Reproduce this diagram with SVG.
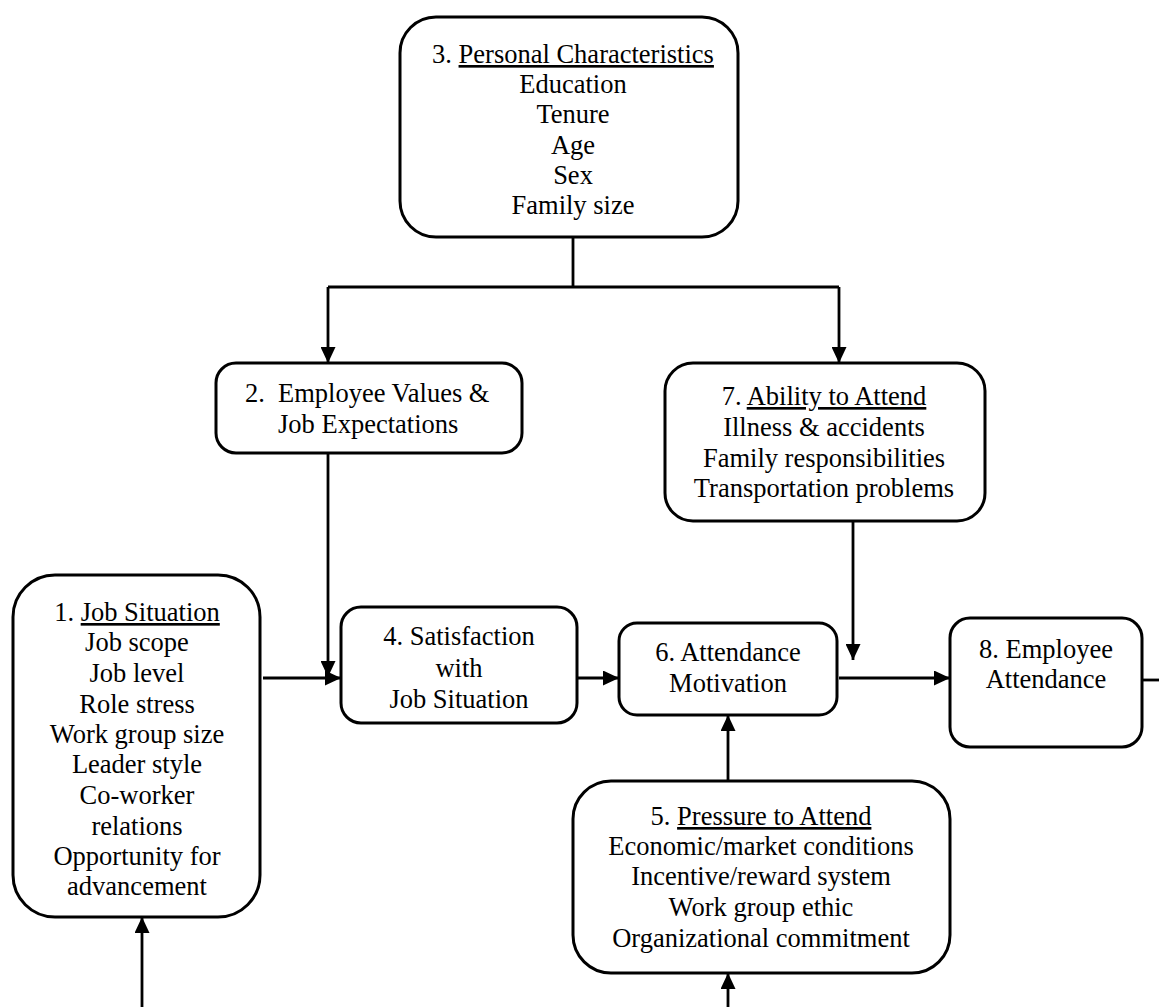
<svg xmlns="http://www.w3.org/2000/svg" width="1159" height="1007" viewBox="0 0 1159 1007">
<style>
  .box { fill: #ffffff; stroke: #000000; stroke-width: 3; }
  .t { font-family: "Liberation Serif", "Times New Roman", serif; font-size: 26.5px; fill: #000000; text-anchor: middle; }
  .ts { font-family: "Liberation Serif", "Times New Roman", serif; font-size: 26.5px; fill: #000000; text-anchor: start; }
  .u { text-decoration: underline; }
  .c { fill: none; stroke: #000000; stroke-width: 2.8; }
  .ca { fill: none; stroke: #000000; stroke-width: 2.8; marker-end: url(#arr); }
</style>
<defs>
  <marker id="arr" markerUnits="userSpaceOnUse" markerWidth="16" markerHeight="15" refX="16" refY="7.5" orient="auto">
    <path d="M0,0 L16,7.5 L0,15 z" fill="#000000"/>
  </marker>
</defs>
<rect width="1159" height="1007" fill="#ffffff"/>

<g id="connectors">
  <path class="c" d="M573,237 V287"/>
  <path class="c" d="M328,287 H839"/>
  <path class="ca" d="M328,287 V363"/>
  <path class="ca" d="M839,287 V363"/>
  <path class="ca" d="M328,453 V677"/>
  <path class="ca" d="M263,678 H341"/>
  <path class="ca" d="M577,678 H619"/>
  <path class="ca" d="M853,521 V660"/>
  <path class="ca" d="M839,678 H950"/>
  <path class="c" d="M1142,680 H1159"/>
  <path class="ca" d="M142,1007 V917"/>
  <path class="ca" d="M728,781 V715"/>
  <path class="ca" d="M728,1007 V973"/>
</g>

<g id="node3">
  <rect class="box" x="400" y="17" width="338" height="220" rx="36"/>
  <text class="t" x="573" y="63">3. <tspan class="u">Personal Characteristics</tspan></text>
  <text class="t" x="573" y="93">Education</text>
  <text class="t" x="573" y="123">Tenure</text>
  <text class="t" x="573" y="154">Age</text>
  <text class="t" x="573" y="184">Sex</text>
  <text class="t" x="573" y="214">Family size</text>
</g>

<g id="node2">
  <rect class="box" x="216" y="363" width="306" height="90" rx="20"/>
  <text class="ts" x="245" y="402">2.</text>
  <text class="ts" x="278" y="402">Employee Values &amp;</text>
  <text class="ts" x="278" y="433">Job Expectations</text>
</g>

<g id="node7">
  <rect class="box" x="665" y="363" width="320" height="158" rx="28"/>
  <text class="t" x="824" y="405">7. <tspan class="u">Ability to Attend</tspan></text>
  <text class="t" x="824" y="436">Illness &amp; accidents</text>
  <text class="t" x="824" y="467">Family responsibilities</text>
  <text class="t" x="824" y="497">Transportation problems</text>
</g>

<g id="node1">
  <rect class="box" x="13" y="575" width="247" height="342" rx="42"/>
  <text class="t" x="137" y="621">1. <tspan class="u">Job Situation</tspan></text>
  <text class="t" x="137" y="651">Job scope</text>
  <text class="t" x="137" y="682">Job level</text>
  <text class="t" x="137" y="713">Role stress</text>
  <text class="t" x="137" y="743">Work group size</text>
  <text class="t" x="137" y="773">Leader style</text>
  <text class="t" x="137" y="804">Co-worker</text>
  <text class="t" x="137" y="835">relations</text>
  <text class="t" x="137" y="865">Opportunity for</text>
  <text class="t" x="137" y="895">advancement</text>
</g>

<g id="node4">
  <rect class="box" x="341" y="607" width="236" height="116" rx="20"/>
  <text class="t" x="459" y="645">4. Satisfaction</text>
  <text class="t" x="459" y="677">with</text>
  <text class="t" x="459" y="708">Job Situation</text>
</g>

<g id="node6">
  <rect class="box" x="619" y="623" width="218" height="92" rx="18"/>
  <text class="t" x="728" y="661">6. Attendance</text>
  <text class="t" x="728" y="692">Motivation</text>
</g>

<g id="node8">
  <rect class="box" x="950" y="618" width="192" height="129" rx="20"/>
  <text class="t" x="1046" y="658">8. Employee</text>
  <text class="t" x="1046" y="688">Attendance</text>
</g>

<g id="node5">
  <rect class="box" x="573" y="781" width="377" height="192" rx="38"/>
  <text class="t" x="761" y="825">5. <tspan class="u">Pressure to Attend</tspan></text>
  <text class="t" x="761" y="855">Economic/market conditions</text>
  <text class="t" x="761" y="885">Incentive/reward system</text>
  <text class="t" x="761" y="916">Work group ethic</text>
  <text class="t" x="761" y="947">Organizational commitment</text>
</g>
</svg>
